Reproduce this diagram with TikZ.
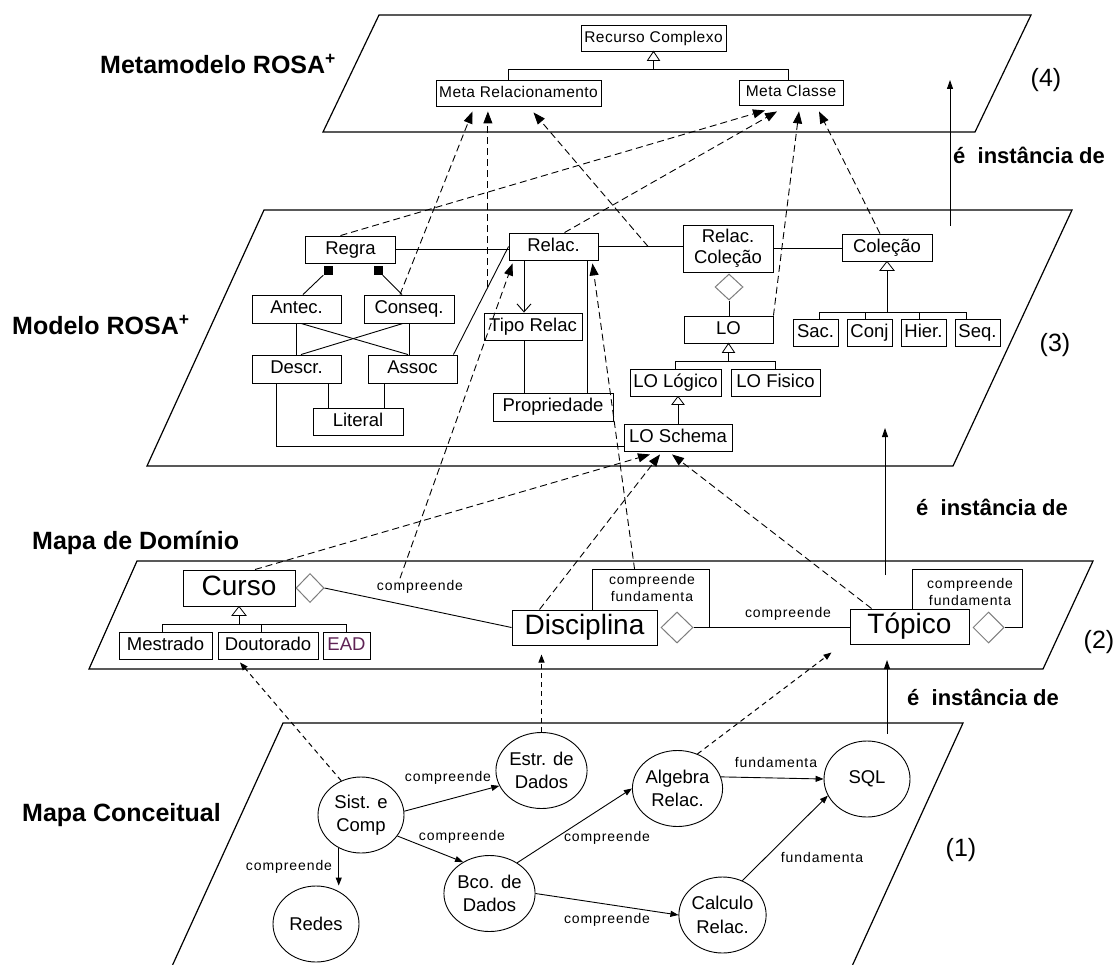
\documentclass[tikz,border=0pt]{standalone}
\usepackage{fontspec}
\setmainfont{Liberation Sans}
\newfontfamily\lblfont[LetterSpace=6.5]{Liberation Sans}
\newfontfamily\metafont[LetterSpace=3]{Liberation Sans}
\usetikzlibrary{arrows.meta,calc,shapes.geometric}
\definecolor{eadcol}{RGB}{95,35,85}
\definecolor{diagray}{RGB}{125,125,125}

\begin{document}
\begin{tikzpicture}[x=1pt,y=-1pt,
  planeedge/.style={line width=1.2pt, line join=miter},
  box/.style={draw, line width=0.9pt, rectangle, inner sep=0pt, align=center},
  mbox/.style={box, font=\metafont\fontsize{15.5}{18}\selectfont, text height=11.5pt, text depth=3pt},
  cbox/.style={box, font=\fontsize{18.5}{21}\selectfont, text height=13.5pt, text depth=4pt},
  dbox/.style={box, line width=1pt, font=\fontsize{28}{32}\selectfont, text height=20pt, text depth=6pt},
  concept/.style={draw, ellipse, line width=0.9pt, minimum width=86, minimum height=76,
    inner sep=0pt, align=center, font=\fontsize{18.5}{23.5}\selectfont},
  aggdia/.style={draw=diagray, fill=white, diamond, line width=1pt, inner sep=0pt},
  compsq/.style={fill=black, rectangle, minimum size=9, inner sep=0pt},
  link/.style={line width=0.9pt},
  gentri/.style={draw, fill=white, line width=0.8pt},
  inst/.style={line width=0.9pt, dash pattern=on 7pt off 4pt, -{Triangle[length=12pt,width=9pt]}},
  instlow/.style={line width=1pt, dash pattern=on 5pt off 4pt, -{Triangle[length=8pt,width=6pt]}},
  cedge/.style={line width=0.9pt, -{Triangle[length=8pt,width=6pt]}},
  lvl/.style={line width=0.9pt, -{Triangle[length=9pt,width=6pt]}},
  heading/.style={font=\bfseries\fontsize{25}{30}\selectfont, anchor=west, inner sep=0pt},
  instlbl/.style={font=\bfseries\fontsize{22}{26}\selectfont, anchor=west, inner sep=0pt},
  levelnum/.style={font=\fontsize{25}{29}\selectfont, inner sep=0pt},
  smalllbl/.style={font=\lblfont\fontsize{14}{17}\selectfont, inner sep=0pt, align=center},
]
\useasboundingbox (0,0) rectangle (1115,965);

% ---------- the four planes ----------
\draw[planeedge] (379,15) -- (1031,15) -- (975,132) -- (323,132) -- cycle;
\draw[planeedge] (264,210) -- (1072,210) -- (953,466) -- (147,466) -- cycle;
\draw[planeedge] (137,561) -- (1093,561) -- (1043,669) -- (89,669) -- cycle;
\draw[planeedge] (168,975) -- (283,723) -- (963,723) -- (848,975);

% ---------- plane titles and level numbers ----------
\node[heading] (hmeta) at (100,64) {Metamodelo ROSA\textsuperscript{+}};
\node[heading] (hmod) at (12,325) {Modelo ROSA\textsuperscript{+}};
\node[heading] (hdom) at (32,543) {Mapa de Domínio};
\node[heading] (hcon) at (22,815) {Mapa Conceitual};
\node[levelnum] (n4) at (1046,80) {(4)};
\node[levelnum] (n3) at (1055,345) {(3)};
\node[levelnum] (n2) at (1099,642) {(2)};
\node[levelnum] (n1) at (961,850) {(1)};
\node[instlbl] (i4) at (953,155) {é~ instância de};
\node[instlbl] (i3) at (916,507) {é~ instância de};
\node[instlbl] (i2) at (907,697) {é~ instância de};

% ---------- level 4: metamodel ----------
\node[mbox, minimum width=145, minimum height=26] (rcx) at (653.5,38) {Recurso Complexo};
\node[mbox, minimum width=165, minimum height=26] (mr) at (518.5,93) {Meta Relacionamento};
\node[mbox, minimum width=104, minimum height=25] (mcl) at (791,92.5) {Meta Classe};
\draw[gentri] (rcx.south) -- ++(-6,9) -- ++(12,0) -- cycle;
\coordinate (rcxbar) at ($(rcx.south)+(0,18)$);
\coordinate (mrtop) at ($(mr.north)+(-10,0)$);
\coordinate (mcltop) at ($(mcl.north)+(-3,0)$);
\draw[link] ($(rcx.south)+(0,9)$) -- (rcxbar);
\draw[link] (mrtop) |- (rcxbar) -| (mcltop);

% ---------- level 3: model ----------
\node[cbox, minimum width=90, minimum height=27] (regra) at (350.5,249.5) {Regra};
\node[cbox, minimum width=89, minimum height=28] (antec) at (296.5,309) {Antec.};
\node[cbox, minimum width=90, minimum height=28] (conseq) at (409,309) {Conseq.};
\node[cbox, minimum width=89, minimum height=28] (descr) at (296.5,369) {Descr.};
\node[cbox, minimum width=89, minimum height=28] (assoc) at (412.5,369) {Assoc};
\node[cbox, minimum width=90, minimum height=27] (literal) at (358,421.5) {Literal};
\node[cbox, minimum width=89, minimum height=27] (rel) at (553.5,246.5) {Relac.};
\node[cbox, minimum width=98, minimum height=27] (tipo) at (533,326.5) {Tipo Relac};
\node[cbox, minimum width=120, minimum height=28] (prop) at (553,407) {Propriedade};
\node[box, font=\fontsize{18.5}{21}\selectfont, minimum width=90, minimum height=47] (rcol) at (728,248.5) {Relac.\\Coleção};
\node[cbox, minimum width=90, minimum height=27] (col) at (887,247.5) {Coleção};
\node[aggdia, minimum width=28, minimum height=26] (rdia) at (729,287) {};
\node[cbox, minimum width=89, minimum height=27] (lo) at (728.5,329.5) {LO};
\node[cbox, minimum width=91, minimum height=27] (lol) at (675.5,382.5) {LO Lógico};
\node[cbox, minimum width=89, minimum height=27] (lof) at (775.5,382.5) {LO Fisico};
\node[cbox, minimum width=108, minimum height=27] (lsch) at (678,437.5) {LO Schema};
\node[cbox, minimum width=45, minimum height=27] (sac) at (815.5,332.5) {Sac.};
\node[cbox, minimum width=45, minimum height=27] (conj) at (869.5,332.5) {Conj};
\node[cbox, minimum width=45, minimum height=27] (hier) at (923.5,332.5) {Hier.};
\node[cbox, minimum width=45, minimum height=27] (seq) at (977.5,332.5) {Seq.};

% rule composition
\node[compsq] (sq1) at ($(regra.south)+(-22.5,7)$) {};
\node[compsq] (sq2) at ($(regra.south)+(27.5,7)$) {};
\draw[link] (sq1.south west) -- ($(antec.north)+(6.5,0)$);
\draw[link] (sq2.south east) -- ($(conseq.north)+(-7,0)$);
\draw[link] (antec.south) -- (descr.north);
\draw[link] (conseq.south) -- (conseq.south |- assoc.north);
\draw[link] ($(antec.south)+(4.5,0)$) -- ($(assoc.north)+(-4.5,0)$);
\draw[link] ($(conseq.south)+(-6,0)$) -- ($(descr.north)+(4.5,0)$);
\coordinate (dlit) at ($(descr.south)+(31.5,0)$);
\coordinate (alit) at ($(assoc.south)+(-28.5,0)$);
\draw[link] (dlit) -- (dlit |- literal.north);
\draw[link] (alit) -- (alit |- literal.north);
\coordinate (dsch) at ($(descr.south west)+(25,0)$);
\coordinate (lschin) at ($(lsch.south west)+(0,-5)$);
\draw[link] (dsch) |- (lschin);

% relations around Relac.
\draw[link] (regra.east) -- (regra.east -| rel.west);
\coordinate (arA) at ($(assoc.north east)+(-4,0)$);
\draw[link] (arA) -- (rel.west);
\coordinate (rtA) at ($(rel.south)+(-29.5,0)$);
\draw[link, -{Straight Barb[length=8pt,width=14pt]}] (rtA) -- (rtA |- tipo.north);
\coordinate (tpA) at (rtA |- tipo.south);
\draw[link] (tpA) -- (tpA |- prop.north);
\coordinate (prA) at ($(prop.north)+(34,0)$);
\draw[link] (prA) -- (prA |- rel.south);
\coordinate (rrE) at (rel.east -| rcol.west);
\draw[link] (rel.east) -- (rrE);
\draw[link] (rcol.east) -- (rcol.east -| col.west);

% learning objects
\draw[link] (rdia.south) -- (rdia.south |- lo.north);
\draw[gentri] (lo.south) -- ++(-6,9) -- ++(12,0) -- cycle;
\coordinate (lobar) at ($(lo.south)+(0,18)$);
\draw[link] ($(lo.south)+(0,9)$) -- (lobar);
\draw[link] (lol.north) |- (lobar) -| (lof.north);
\coordinate (lolg) at (lsch.north |- lol.south);
\draw[gentri] (lolg) -- ++(-6,8) -- ++(12,0) -- cycle;
\draw[link] ($(lolg)+(0,8)$) -- (lsch.north);

% collections
\draw[gentri] (col.south) -- ++(-7,9) -- ++(14,0) -- cycle;
\coordinate (colbar) at ($(col.south)+(0,51)$);
\draw[link] ($(col.south)+(0,9)$) -- (colbar);
\coordinate (sacT) at ($(sac.north)+(4,0)$);
\coordinate (conjT) at ($(conj.north)+(-4,0)$);
\coordinate (hierT) at ($(hier.north)+(-4,0)$);
\coordinate (seqT) at ($(seq.north)+(-11,0)$);
\draw[link] (sacT) |- (colbar) -| (seqT);
\draw[link] (conjT) -- (conjT |- colbar);
\draw[link] (hierT) -- (hierT |- colbar);

% ---------- level 2: domain map ----------
\node[dbox, minimum width=112, minimum height=36] (curso) at (239,588) {Curso};
\node[aggdia, minimum width=28, minimum height=29] (cdia) at (310,588) {};
\node[cbox, minimum width=93, minimum height=27] (mest) at (165.5,645.5) {Mestrado};
\node[cbox, minimum width=100, minimum height=27] (dout) at (268,645.5) {Doutorado};
\node[cbox, minimum width=47, minimum height=27, text=eadcol] (ead) at (346.5,645.5) {EAD};
\node[dbox, minimum width=145, minimum height=35] (disc) at (584.5,627.5) {Disciplina};
\node[aggdia, minimum width=32, minimum height=31] (ddia) at (677,627.5) {};
\node[dbox, minimum width=119, minimum height=35] (tp) at (909.5,626.5) {Tópico};
\node[aggdia, minimum width=31, minimum height=31] (tdia) at (988.5,627.5) {};

\draw[gentri] (curso.south) -- ++(-7,9) -- ++(14,0) -- cycle;
\coordinate (cursobar) at ($(curso.south)+(0,18)$);
\draw[link] ($(curso.south)+(0,9)$) -- (cursobar);
\coordinate (mestT) at ($(mest.north)+(-3.5,0)$);
\coordinate (doutT) at ($(dout.north)+(-7,0)$);
\draw[link] (mestT) |- (cursobar) -| (ead.north);
\draw[link] (doutT) -- (doutT |- cursobar);

\draw[link] (cdia.east) -- (disc.west);
\node[smalllbl] (lcc) at (420,587) {compreende};
\draw[link] (ddia.east) -- (ddia.east -| tp.west);
\node[smalllbl] (ldt) at (788,614) {compreende};

\coordinate (dl0) at ($(disc.north west)+(81,0)$);
\coordinate (dl1) at ($(dl0)+(0,-40)$);
\coordinate (dl2) at ($(dl1)+(117,0)$);
\draw[link] (dl0) -- (dl1) -- (dl2) -- (dl2 |- ddia.east);
\node[smalllbl] (ldl) at (652,588) {compreende\\fundamenta};

\coordinate (tl0) at ($(tp.north west)+(63,0)$);
\coordinate (tl1) at ($(tl0)+(0,-39)$);
\coordinate (tl2) at ($(tl1)+(110,0)$);
\draw[link] (tl0) -- (tl1) -- (tl2) |- (tdia.east);
\node[smalllbl] (ltl) at (970,592) {compreende\\fundamenta};

% ---------- level 1: concept map ----------
\node[concept] (sist) at (361,815) {Sist. e\\Comp};
\node[concept] (redes) at (316,924) {Redes};
\node[concept] (estr) at (541.5,770.5) {Estr. de\\Dados};
\node[concept] (bco) at (489.5,893.5) {Bco. de\\Dados};
\node[concept] (alg) at (677.5,788.5) {Algebra\\Relac.};
\node[concept] (sqln) at (867,779) {SQL};
\node[concept] (calc) at (722.5,915) {Calculo\\Relac.};

\draw[cedge] (sist.5) -- (estr.200);
\draw[cedge] (sist.330) -- (bco.130);
\draw[cedge] (sist.236) -- (sist.236 |- redes.north);
\draw[cedge] (bco.48) -- (alg.west);
\draw[cedge] (bco.east) -- (calc.west);
\draw[cedge] (alg.15) -- (sqln.west);
\draw[cedge] (calc.60) -- (sqln.203);

\node[smalllbl] (l1) at (448,778) {compreende};
\node[smalllbl] (l2) at (462,837) {compreende};
\node[smalllbl] (l3) at (289,867) {compreende};
\node[smalllbl] (l4) at (607,838) {compreende};
\node[smalllbl] (l5) at (607,920) {compreende};
\node[smalllbl] (l6) at (776,762) {fundamenta};
\node[smalllbl] (l7) at (822,857) {fundamenta};

% ---------- "is an instance of" between levels ----------
\coordinate (up4a) at (950,226);
\coordinate (up4b) at (950,80);
\coordinate (up3a) at (885,575);
\coordinate (up3b) at (885,428);
\coordinate (up2a) at ($(sqln.north)+(20,-7)$);
\coordinate (up2b) at (887,660);
\draw[lvl] (up4a) -- (up4b);
\draw[lvl] (up3a) -- (up3b);
\draw[lvl] (up2a) -- (up2b);

% model elements -> Meta Relacionamento
\coordinate (arm) at ($(arA)!0.625!(rel.west)$);
\coordinate (mr2) at ($(mr.south)+(-30.5,5)$);
\coordinate (rrm) at ($(rel.east)!0.59!(rrE)$);
\draw[inst] ($(conseq.north)+(-9,0)$) -- ($(mr.south)+(-46,5)$);
\draw[inst] (arm) -- (arm |- mr2);
\draw[inst] (rrm) -- ($(mr.south)+(15,6)$);

% model elements -> Meta Classe
\draw[inst] ($(regra.north)+(-10,0)$) -- ($(mcl.south)+(-26,5)$);
\draw[inst] ($(rel.north)+(11,0)$) -- ($(mcl.south)+(-14,6)$);
\draw[inst] (lo.north east) -- ($(mcl.south)+(8,6)$);
\draw[inst] ($(col.north)+(-7,0)$) -- ($(mcl.south)+(28,6)$);

% domain map -> model
\coordinate (ccup) at ($(lcc.north)+(-20,-2)$);
\coordinate (dlup) at ($(dl1)!0.36!(dl2)$);
\draw[inst] (ccup) -- ($(rel.south west)+(4,3)$);
\draw[inst] (dlup) -- ($(rel.south east)+(-6,3)$);
\draw[inst] ($(curso.north)+(16,0)$) -- ($(lsch.south)+(-28,3)$);
\draw[inst] ($(disc.north)+(-45,0)$) -- ($(lsch.south)+(-18,3)$);
\draw[inst] ($(tp.north west)+(22,0)$) -- ($(lsch.south)+(-6,3)$);

% concept map -> domain map
\coordinate (dsb) at (estr.north |- disc.south);
\draw[instlow] (sist.120) -- ($(dout.south)+(-28,3)$);
\draw[instlow] (estr.north) -- ($(dsb)+(0,9)$);
\draw[instlow] (alg.60) -- ($(tp.south west)+(-18,8)$);

\end{tikzpicture}
\end{document}
